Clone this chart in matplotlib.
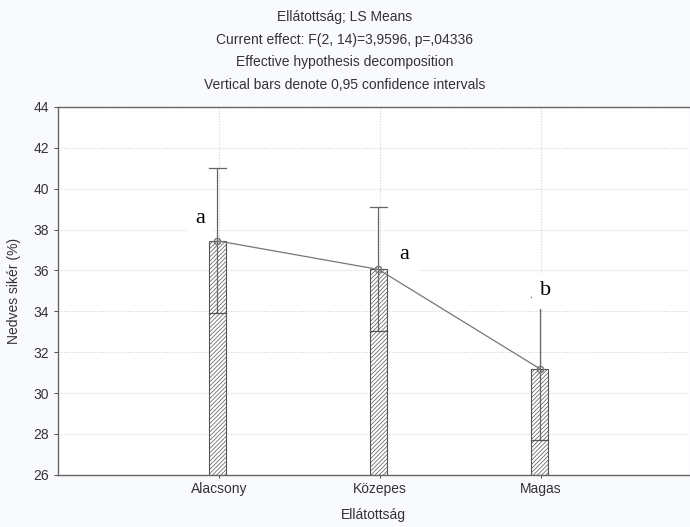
import numpy as np
import matplotlib.pyplot as plt

categories = ["Alacsony", "Közepes", "Magas"]
means = [37.45, 36.05, 31.2]
ci_low = [33.9, 33.05, 27.7]
ci_high = [41.0, 39.1, 34.7]
letters = ["a", "a", "b"]

plt.rcParams['font.family'] = ['Liberation Sans', 'DejaVu Sans']
plt.rcParams['hatch.color'] = '#666666'
plt.rcParams['hatch.linewidth'] = 0.5

fig = plt.figure(figsize=(6.9, 5.27), dpi=100, facecolor='#f8fafd')
ax = fig.add_axes([0.084, 0.099, 0.915, 0.698])
ax.set_facecolor('white')

x = np.arange(1, len(categories) + 1) - 0.01
base = 26
bw = 0.105

ax.bar(x, np.array(means) - base, bottom=base, width=bw, color='white',
       edgecolor='#555555', hatch='////////', linewidth=0.8, zorder=2)

# whiskers: lower part inside the bar, upper part above
for xi, m, lo, hi in zip(x, means, ci_low, ci_high):
    ax.plot([xi, xi], [lo, hi], color='#666666', lw=0.9, zorder=3)
    ax.plot([xi - bw / 2, xi + bw / 2], [lo, lo], color='#555555', lw=0.9, zorder=3)
    ax.plot([xi - bw / 2, xi + bw / 2], [hi, hi], color='#666666', lw=0.9, zorder=3)

ax.plot(x, means, color='#777777', lw=0.9, marker='o', ms=4.5,
        mfc='none', mec='#777777', zorder=4)

# group letters
let_x = [0.885, 2.15, 3.03]
let_y = [38.55, 36.8, 35.0]
for lx, ly, t in zip(let_x, let_y, letters):
    ax.text(lx, ly, t, family='Liberation Serif', fontsize=16, ha='center',
            va='center', zorder=5,
            bbox=dict(facecolor='white', edgecolor='none', pad=6))

ax.set_xlim(0, 3.92)
ax.set_ylim(26, 44)
ax.set_yticks(np.arange(26, 45, 2))
ax.set_xticks(x + 0.01)
ax.set_xticklabels(categories)
ax.tick_params(colors='#333333', labelsize=10, length=3, width=0.6)
ax.tick_params(axis='x', length=2)

ax.grid(True, linestyle=(0, (1, 1.5)), color='#d4d4d4', linewidth=0.8, zorder=0)
ax.set_axisbelow(True)
for s in ['left', 'bottom', 'top']:
    ax.spines[s].set_color('#666666')
    ax.spines[s].set_linewidth(1.0)
ax.spines['right'].set_visible(False)

ax.set_xlabel("Ellátottság", fontsize=10, color='#333333', labelpad=8)
ax.set_ylabel("Nedves sikér (%)", fontsize=10, color='#333333', labelpad=9)

title_lines = ["Ellátottság; LS Means",
               "Current effect: F(2, 14)=3,9596, p=,04336",
               "Effective hypothesis decomposition",
               "Vertical bars denote 0,95 confidence intervals"]
for i, line in enumerate(title_lines):
    fig.text(0.5, 1 - (17 + 22.7 * i) / 527, line, ha='center', va='center',
             fontsize=10, color='#333333')

fig.savefig("out.png", dpi=100, facecolor=fig.get_facecolor())
